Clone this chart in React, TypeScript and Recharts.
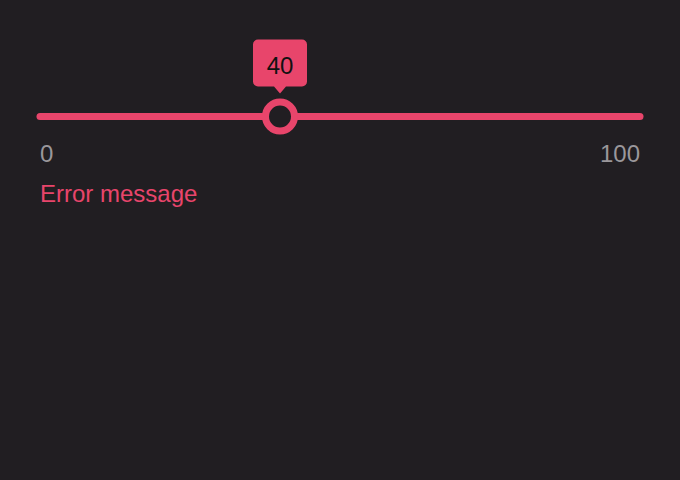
import React from 'react';
import { LineChart, Line, XAxis, YAxis, ReferenceDot } from 'recharts';

const trackPoints = [0, 100];
const sliderValue = 40;
const tickLabels = [0, 100];
const errorText = 'Error message';

const BG = '#211e22';
const ACCENT = '#e8456b';

const data = trackPoints.map((x) => ({ x, y: 0 }));

const Thumb = (props: any) => {
  const { cx, cy } = props;
  return (
    <g>
      <path
        d={`M${cx - 22},${cy - 77} h44 a5,5 0 0 1 5,5 v37 a5,5 0 0 1 -5,5 h-16 l-6,7 l-6,-7 h-16 a5,5 0 0 1 -5,-5 v-37 a5,5 0 0 1 5,-5 z`}
        fill={ACCENT}
      />
      <text x={cx} y={cy - 43} textAnchor="middle" fontSize={24} fill="#111">
        {sliderValue}
      </text>
      <circle cx={cx} cy={cy} r={14.5} fill={BG} stroke={ACCENT} strokeWidth={7} />
    </g>
  );
};

const Tick = (props: any) => {
  const { x, payload } = props;
  return (
    <text x={x} y={162} textAnchor={payload.value === 0 ? 'start' : 'end'} fontSize={24} fill="#9a979b">
      {payload.value}
    </text>
  );
};

export default function App() {
  return (
    <div style={{ position: 'fixed', inset: 0, background: BG, fontFamily: '"Liberation Sans", Arial, sans-serif' }}>
      <LineChart width={680} height={480} data={data} margin={{ top: 0, right: 40, left: 40, bottom: 246 }}>
        <XAxis dataKey="x" type="number" domain={[0, 100]} ticks={tickLabels} tick={<Tick />} axisLine={false} tickLine={false} height={1} />
        <YAxis hide domain={[-1, 1]} />
        <Line dataKey="y" stroke={ACCENT} strokeWidth={7} strokeLinecap="round" dot={false} isAnimationActive={false} />
        <ReferenceDot x={sliderValue} y={0} shape={<Thumb />} />
        <text x={40} y={202} fontSize={24} fill={ACCENT}>{errorText}</text>
      </LineChart>
    </div>
  );
}
